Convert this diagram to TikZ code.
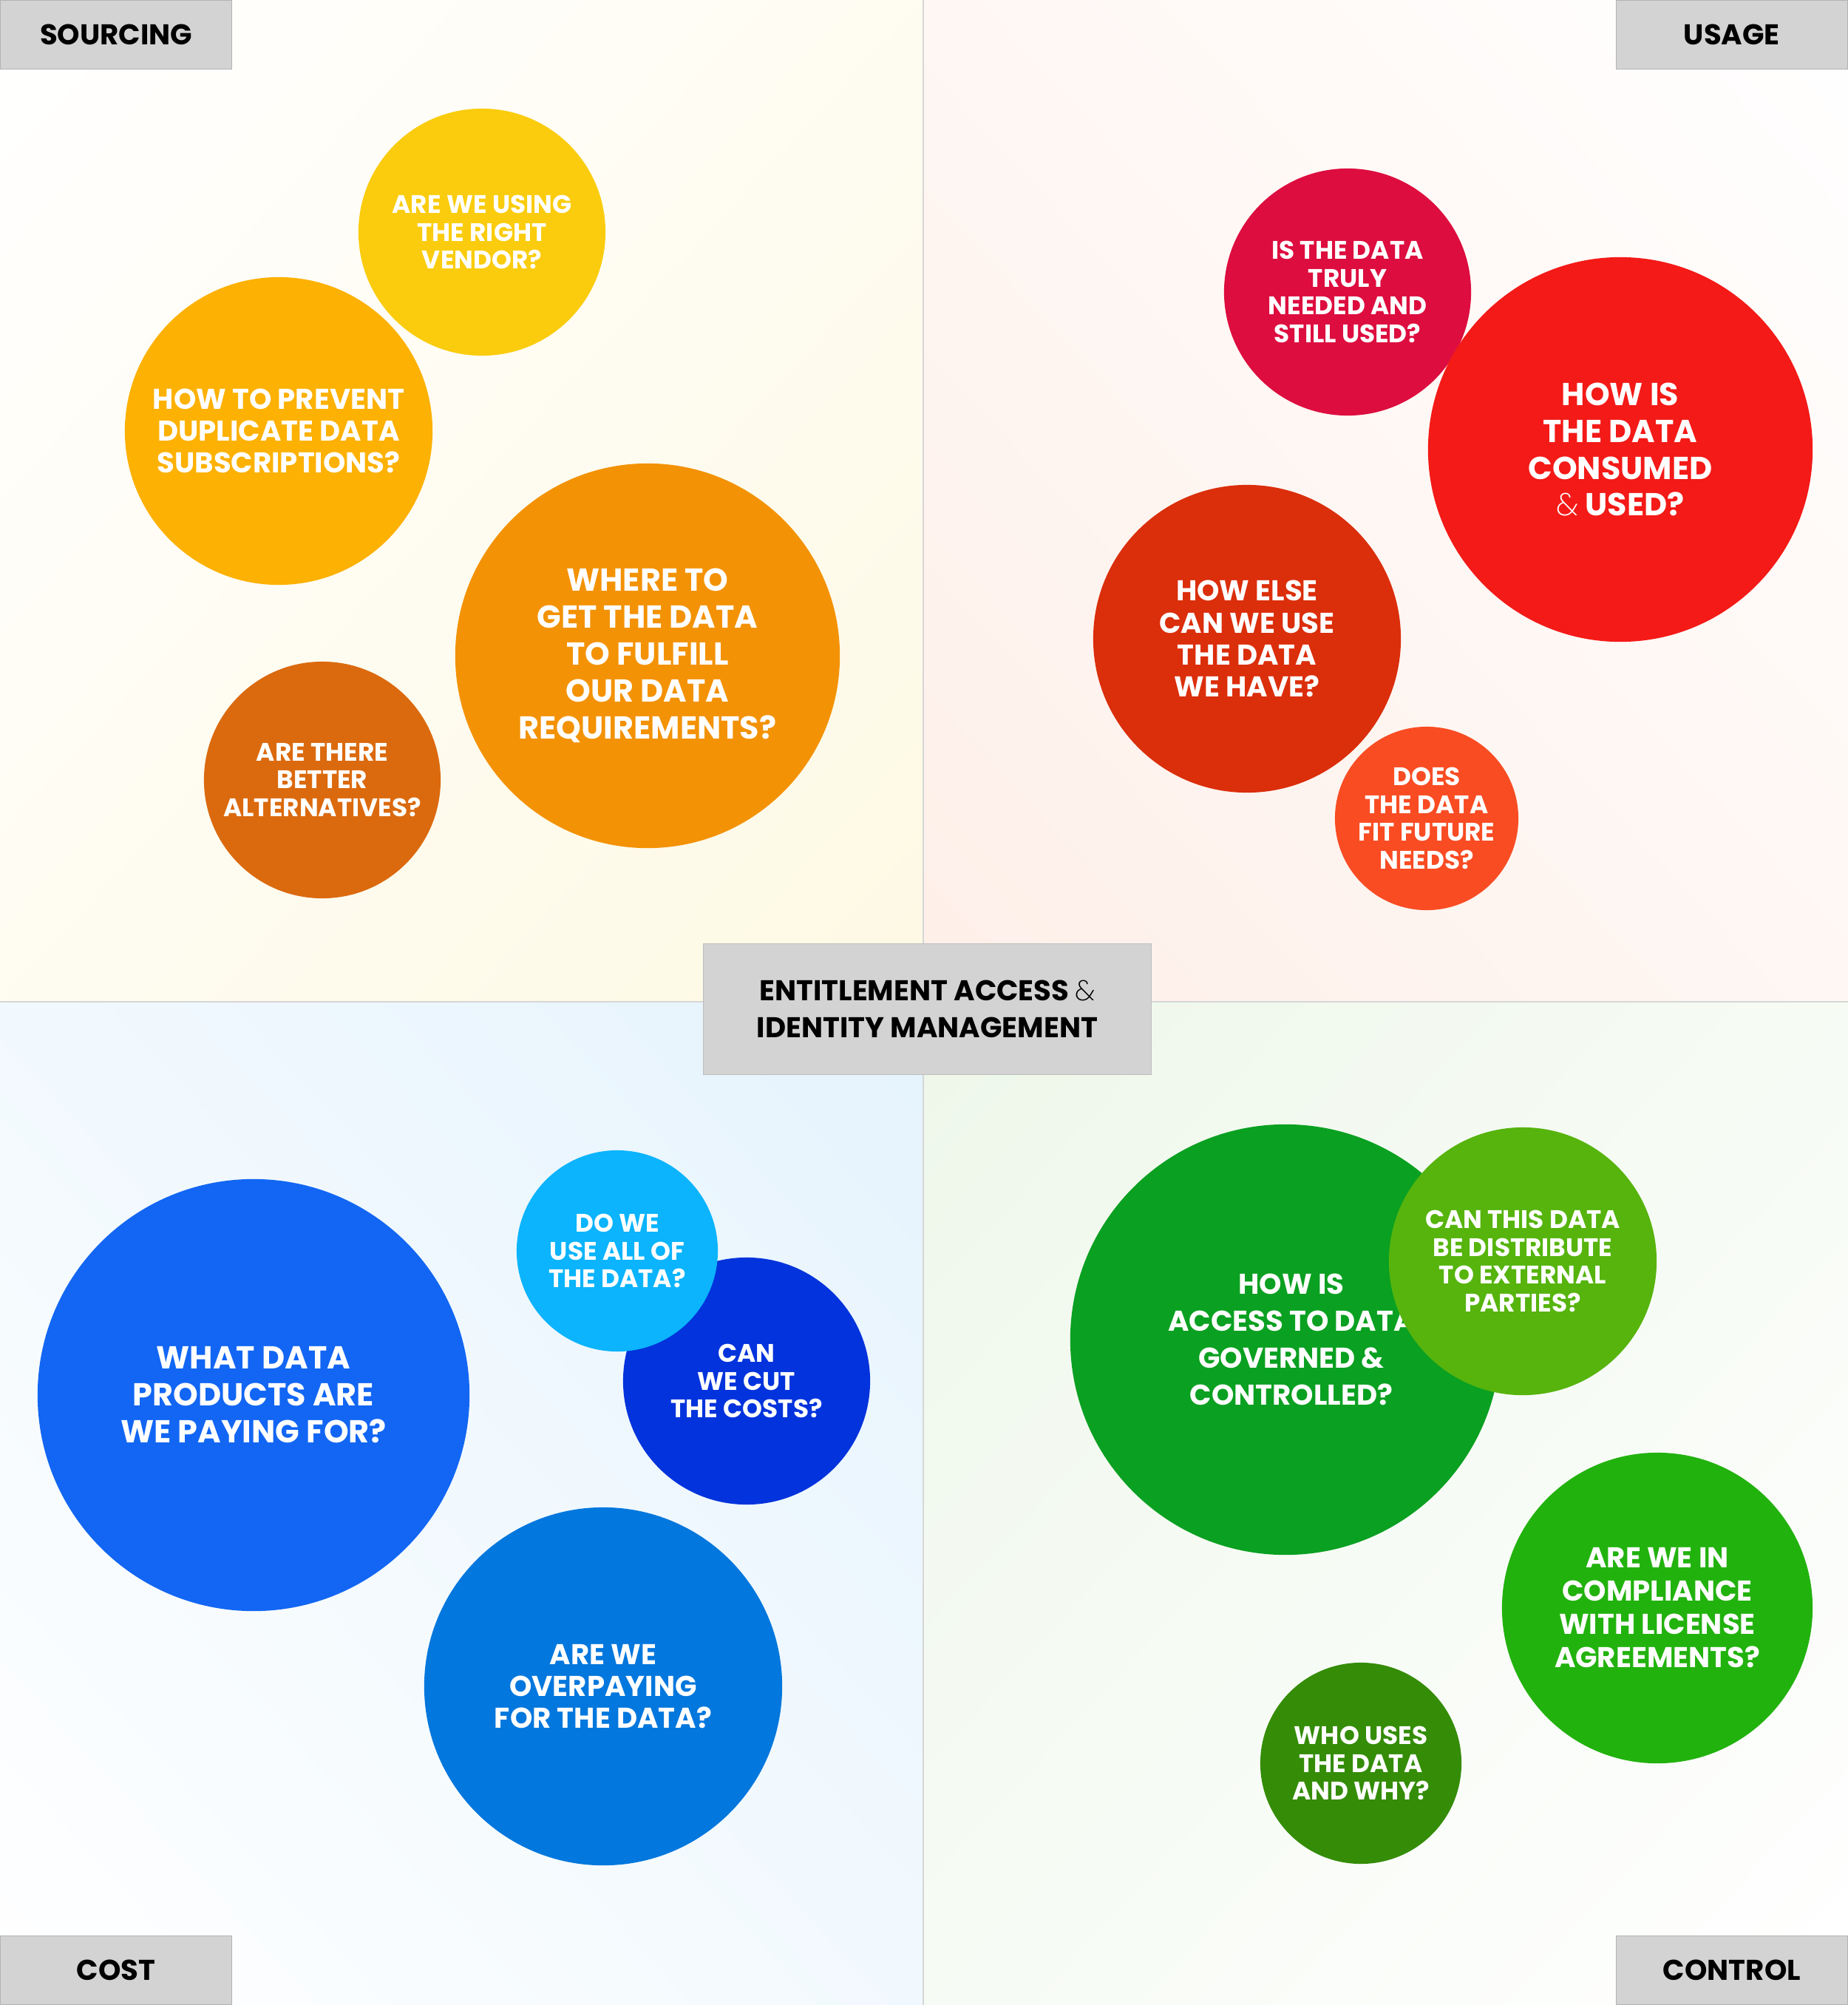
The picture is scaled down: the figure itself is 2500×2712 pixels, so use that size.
\documentclass[tikz,border=0pt]{standalone}
\usepackage{fontspec}
\setmainfont{Poppins}
\IfFontExistsTF{Poppins ExtraLight}{\newfontfamily\ampfont{Poppins ExtraLight}}{%
  \IfFontExistsTF{Poppins Thin}{\newfontfamily\ampfont{Poppins Thin}}{%
    \IfFontExistsTF{Poppins Light}{\newfontfamily\ampfont{Poppins Light}}{\newfontfamily\ampfont{Poppins}}}}
\usetikzlibrary{shadings}
\definecolor{cVend}{HTML}{FACC0D}
\definecolor{cDup}{HTML}{FDB102}
\definecolor{cWhere}{HTML}{F39204}
\definecolor{cAlt}{HTML}{DB6A0E}
\definecolor{cCrim}{HTML}{DD0D3F}
\definecolor{cCons}{HTML}{F31A17}
\definecolor{cElse}{HTML}{DB2E0B}
\definecolor{cFut}{HTML}{F94C23}
\definecolor{cWhat}{HTML}{1266F3}
\definecolor{cCut}{HTML}{0233DC}
\definecolor{cDowe}{HTML}{0BB4FC}
\definecolor{cOver}{HTML}{0277DD}
\definecolor{cAcc}{HTML}{0AA021}
\definecolor{cDist}{HTML}{56B40D}
\definecolor{cComp}{HTML}{22B20E}
\definecolor{cWho}{HTML}{348C07}
\definecolor{boxgray}{HTML}{D3D3D3}
\definecolor{linegray}{HTML}{D6D6D6}
\definecolor{bgY}{HTML}{FEF9E4}
\definecolor{bgR}{HTML}{FEEFE8}
\definecolor{bgB}{HTML}{E5F3FD}
\definecolor{bgG}{HTML}{EEF7EA}
\tikzset{
  bub/.style={circle, inner sep=0pt, align=center, text=white},
  fL/.style={font=\fontsize{12.2pt}{14.2pt}\selectfont\bfseries},
  fA/.style={font=\fontsize{11.0pt}{14.2pt}\selectfont\bfseries},
  fM/.style={font=\fontsize{11.0pt}{12.3pt}\selectfont\bfseries},
  fC/.style={font=\fontsize{11.0pt}{12.8pt}\selectfont\bfseries},
  fS/.style={font=\fontsize{9.75pt}{10.7pt}\selectfont\bfseries},
  tagbox/.style={fill=boxgray, draw=boxgray!85!black, line width=0.3pt, inner sep=0pt,
    minimum width=3.13cm, minimum height=0.93cm, text=black,
    font=\fontsize{11.0pt}{12pt}\selectfont\bfseries},
  centerbox/.style={fill=boxgray, draw=boxgray!90!black, line width=0.3pt, inner sep=0pt,
    minimum width=6.05cm, minimum height=1.76cm, align=center, text=black,
    font=\fontsize{11.0pt}{14.2pt}\selectfont\bfseries},
  divider/.style={draw=linegray, line width=0.6pt}
}
\newcommand{\thinamp}{{\ampfont\mdseries\&}}
\begin{document}
\begin{tikzpicture}[x=0.01cm,y=-0.01cm]
\useasboundingbox (0,0) rectangle (2500,2712);
% quadrant backgrounds
\shade[upper left=white, upper right=bgY!50!white, lower left=bgY!50!white, lower right=bgY] (0,0) rectangle (1249,1355);
\shade[upper right=white, upper left=bgR!50!white, lower right=bgR!50!white, lower left=bgR] (1249,0) rectangle (2500,1355);
\shade[lower left=white, upper left=bgB!50!white, lower right=bgB!50!white, upper right=bgB] (0,1355) rectangle (1249,2712);
\shade[lower right=white, upper right=bgG!50!white, lower left=bgG!50!white, upper left=bgG] (1249,1355) rectangle (2500,2712);
% dividers
\coordinate (vtop) at (1249,0);
\coordinate (vbot) at (1249,2712);
\coordinate (hl) at (0,1355);
\coordinate (hr) at (2500,1355);
\draw[divider] (vtop) -- (vbot);
\draw[divider] (hl) -- (hr);
% SOURCING
\node[bub, fS, fill=cVend, minimum size=3.34cm] (vend) at (652,314) {ARE WE USING\\THE RIGHT\\VENDOR?};
\node[bub, fM, fill=cDup, minimum size=4.16cm] (dup) at (377,583) {HOW TO PREVENT\\DUPLICATE DATA\\SUBSCRIPTIONS?};
\node[bub, fL, fill=cWhere, minimum size=5.20cm] (where) at (876,887) {WHERE TO\\GET THE DATA\\TO FULFILL\\OUR DATA\\REQUIREMENTS?};
\node[bub, fS, fill=cAlt, minimum size=3.20cm] (alt) at (436,1055) {ARE THERE\\BETTER\\ALTERNATIVES?};
% USAGE
\node[bub, fS, fill=cCrim, minimum size=3.34cm] (crim) at (1823,395) {IS THE DATA\\TRULY\\NEEDED AND\\STILL USED?};
\node[bub, fL, fill=cCons, minimum size=5.20cm] (cons) at (2192,608) {HOW IS\\THE DATA\\CONSUMED\\\thinamp{} USED?};
\node[bub, fM, fill=cElse, minimum size=4.16cm] (else) at (1687,864) {HOW ELSE\\CAN WE USE\\THE DATA\\WE HAVE?};
\node[bub, fS, fill=cFut, minimum size=2.48cm] (fut) at (1930,1107) {DOES\\THE DATA\\FIT FUTURE\\NEEDS?};
% COST
\node[bub, fL, fill=cWhat, minimum size=5.84cm] (what) at (343,1887) {WHAT DATA\\PRODUCTS ARE\\WE PAYING FOR?};
\node[bub, fS, fill=cCut, minimum size=3.34cm] (cut) at (1010,1868) {CAN\\WE CUT\\THE COSTS?};
\node[bub, fS, fill=cDowe, minimum size=2.72cm] (dowe) at (835,1692) {DO WE\\USE ALL OF\\THE DATA?};
\node[bub, fM, fill=cOver, minimum size=4.84cm] (over) at (816,2281) {ARE WE\\OVERPAYING\\FOR THE DATA?};
% CONTROL
\node[bub, fA, fill=cAcc, minimum size=5.82cm] (acc) at (1739,1812) {};
\node[fA, text=white, align=center, inner sep=0pt] (acctext) at (1747,1812) {HOW IS\\ACCESS TO DATA\\GOVERNED \&\\CONTROLLED?};
\node[bub, fS, fill=cDist, minimum size=3.62cm] (dist) at (2060,1706) {CAN THIS DATA\\BE DISTRIBUTE\\TO EXTERNAL\\PARTIES?};
\node[bub, fC, fill=cComp, minimum size=4.20cm] (comp) at (2242,2175) {ARE WE IN\\COMPLIANCE\\WITH LICENSE\\AGREEMENTS?};
\node[bub, fS, fill=cWho, minimum size=2.72cm] (who) at (1841,2385) {WHO USES\\THE DATA\\AND WHY?};
% labels
\node[tagbox, anchor=north west] (sourcing) at (0,0) {SOURCING};
\node[tagbox, anchor=north east] (usage) at (2500,0) {USAGE};
\node[tagbox, anchor=south west] (cost) at (0,2712) {COST};
\node[tagbox, anchor=south east] (control) at (2500,2712) {CONTROL};
\node[centerbox] (eaim) at (1254.5,1365) {ENTITLEMENT ACCESS \thinamp\\IDENTITY MANAGEMENT};
\end{tikzpicture}
\end{document}
